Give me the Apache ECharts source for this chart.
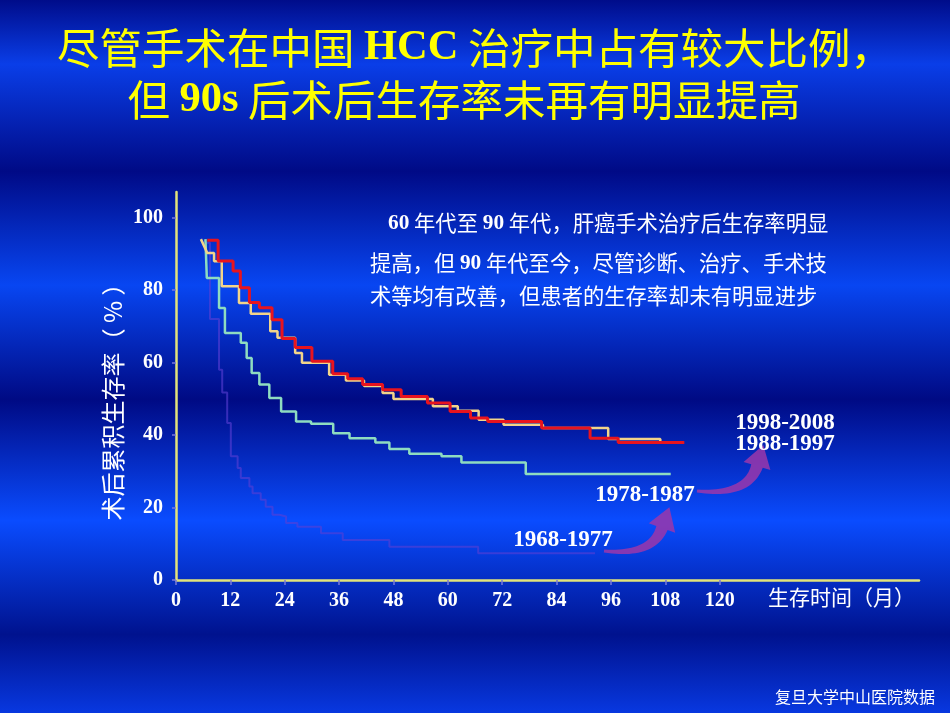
<!DOCTYPE html>
<html>
<head>
<meta charset="utf-8">
<title>HCC 术后生存率</title>
<script src="https://cdn.jsdelivr.net/npm/echarts@6/dist/echarts.min.js"></script>
<style>
  html, body { margin: 0; padding: 0; background: #000c8c; }
  #main { width: 950px; height: 713px; }
</style>
</head>
<body>
<div id="main"></div>
<script>
// 坐标轴刻度
var xTicks = [0, 12, 24, 36, 48, 60, 72, 84, 96, 108, 120];
var yTicks = [0, 20, 40, 60, 80, 100];

// 1998-2008（红）
var t1998 = [6.9, 9.3, 12.6, 14.2, 16.2, 18.4, 21.2, 23.4, 26.3, 30, 34.6, 37.9, 41.2, 45.6, 49.7, 55.5, 60.5, 65, 68.8, 80.7, 91.4, 97.6, 112.2];
var s1998 = [93.7, 88, 85.2, 80.6, 76.5, 75.1, 71.8, 66.6, 64.1, 60.3, 56.9, 55.5, 53.9, 52.5, 50.6, 48.8, 46.5, 44.7, 43.7, 41.9, 39.1, 37.9, 37.9];

// 1988-1997（黄）
var lead1988 = [5.5, 94];
var t1988 = [6.9, 8.4, 10.1, 13.9, 16.5, 20.8, 22.4, 26.3, 27.8, 33.8, 37.5, 41.5, 45.6, 48, 56.7, 62.2, 66.8, 72.3, 81, 95.4, 106.9];
var s1988 = [90.2, 87.9, 81, 76.4, 73.4, 68.6, 66.8, 62.6, 59.9, 56.6, 55, 53.5, 51.6, 49.9, 47.9, 46.7, 44.2, 42.8, 41.9, 38.9, 37.9];

// 1978-1987（绿）
var t1978 = [6.5, 6.8, 9.5, 10.8, 14.3, 15.6, 16.7, 18.4, 20.6, 23.2, 26.5, 29.8, 34.7, 38.3, 44, 47.1, 51.5, 58.6, 63, 77.2, 109.2];
var s1978 = [94, 83.3, 75, 68.1, 65.4, 61.2, 57.1, 53.9, 50.2, 46.5, 43.7, 43.1, 40.5, 39.1, 37.9, 36.1, 34.8, 34.1, 32.4, 29.2, 29.2];

// 1968-1977（紫）
var t1968 = [6.5, 7.5, 9.5, 10.2, 11.3, 12.1, 13.6, 14.3, 16.2, 16.9, 18.7, 19.8, 21.3, 22.8, 24.3, 26.8, 32, 36.8, 47.1, 66.7, 92.5];
var s1968 = [93, 72, 58, 51.7, 43.3, 34.1, 30.9, 28.1, 25.8, 23.9, 22.1, 20.2, 18, 17.5, 15.7, 14.7, 12.9, 11, 9.2, 7.4, 7.4];

var serif = "'Liberation Serif', 'Times New Roman', serif";
var sans = "'Noto Sans CJK SC', 'Noto Sans', sans-serif";

// 生存曲线：先水平再下降
function steps(t, s) {
  var pts = [[t[0], s[0]]];
  for (var i = 1; i < t.length; i++) {
    pts.push([t[i], s[i - 1]]);
    pts.push([t[i], s[i]]);
  }
  return pts;
}

// 弯箭头（二次曲线 + 箭头）
function curvedArrow(p0, c, p1, w0, w1, headLen, headW) {
  var left = [], right = [], n = 24;
  for (var i = 0; i <= n; i++) {
    var t = i / n, u = 1 - t;
    var x = u * u * p0[0] + 2 * u * t * c[0] + t * t * p1[0];
    var y = u * u * p0[1] + 2 * u * t * c[1] + t * t * p1[1];
    var dx = 2 * u * (c[0] - p0[0]) + 2 * t * (p1[0] - c[0]);
    var dy = 2 * u * (c[1] - p0[1]) + 2 * t * (p1[1] - c[1]);
    var len = Math.sqrt(dx * dx + dy * dy);
    var nx = -dy / len, ny = dx / len;
    var w = (w0 + (w1 - w0) * t) / 2;
    left.push([x + nx * w, y + ny * w]);
    right.push([x - nx * w, y - ny * w]);
  }
  var ex = p1[0] - c[0], ey = p1[1] - c[1];
  var el = Math.sqrt(ex * ex + ey * ey);
  ex /= el; ey /= el;
  var hx = -ey, hy = ex;
  var head = [
    [p1[0] + hx * headW / 2, p1[1] + hy * headW / 2],
    [p1[0] + ex * headLen, p1[1] + ey * headLen],
    [p1[0] - hx * headW / 2, p1[1] - hy * headW / 2]
  ];
  return left.concat(head, right.reverse());
}

function label(text, x, y, size, opts) {
  opts = opts || {};
  return {
    type: 'text',
    x: x, y: y,
    rotation: opts.rotation || 0,
    z: 20,
    silent: true,
    style: {
      text: text,
      fill: opts.fill || '#ffffff',
      font: opts.font || (size + 'px ' + sans),
      align: opts.align || 'left',
      textAlign: opts.align || 'left',
      verticalAlign: 'middle',
      textVerticalAlign: 'middle',
      rich: opts.rich
    }
  };
}

var chart = echarts.init(document.getElementById('main'), null, { renderer: 'canvas' });

var bg = new echarts.graphic.LinearGradient(0, 0, 0, 1, [
  { offset: 0, color: '#000c8a' },
  { offset: 0.09, color: '#0a3ee8' },
  { offset: 0.24, color: '#000a86' },
  { offset: 0.40, color: '#0846f2' },
  { offset: 0.56, color: '#000a84' },
  { offset: 0.73, color: '#0a4cff' },
  { offset: 0.89, color: '#00128e' },
  { offset: 1, color: '#0838e0' }
]);

var titleRich = {
  c: { font: '42.5px ' + sans, fill: '#ffff00' },
  e: { font: 'bold 42.5px ' + serif, fill: '#ffff00' }
};
var noteRich = {
  c: { font: '21.3px ' + sans, fill: '#ffffff' },
  n: { font: 'bold 21.3px ' + serif, fill: '#ffffff' }
};
var tagFont = 'bold 23px ' + serif;
var arrowFill = 'rgba(155, 55, 170, 0.85)';

var option = {
  animation: false,
  grid: {
    left: 176, top: 192, right: 31, bottom: 133,
    outerBoundsMode: 'none'
  },
  xAxis: {
    type: 'value',
    min: 0, max: 164,
    splitLine: { show: false },
    axisLine: { lineStyle: { color: '#e3e37a', width: 2.5 } },
    axisTick: { customValues: xTicks, length: 5, lineStyle: { color: '#7a78d8', width: 1.5 } },
    axisLabel: {
      customValues: xTicks,
      margin: 11,
      color: '#ffffff',
      fontFamily: serif, fontWeight: 'bold', fontSize: 20
    }
  },
  yAxis: {
    type: 'value',
    min: 0, max: 107,
    splitLine: { show: false },
    axisLine: { onZero: false, lineStyle: { color: '#e3e37a', width: 2.5 } },
    axisTick: { customValues: yTicks, length: 4, lineStyle: { color: '#7a78d8', width: 1.5 } },
    axisLabel: {
      customValues: yTicks,
      margin: 13,
      color: '#ffffff',
      fontFamily: serif, fontWeight: 'bold', fontSize: 20
    }
  },
  series: [
    {
      name: '1968-1977', type: 'line', showSymbol: false, z: 2,
      lineStyle: { color: '#5b40d4', width: 2, opacity: 0.6 },
      data: steps(t1968, s1968)
    },
    {
      name: '1978-1987', type: 'line', showSymbol: false, z: 3,
      lineStyle: { color: '#8edcc0', width: 2.5 },
      data: steps(t1978, s1978)
    },
    {
      name: '1988-1997', type: 'line', showSymbol: false, z: 4,
      lineStyle: { color: '#f2d48a', width: 2.5 },
      data: [lead1988].concat(steps(t1988, s1988))
    },
    {
      name: '1998-2008', type: 'line', showSymbol: false, z: 5,
      lineStyle: { color: '#e8141e', width: 3 },
      data: steps(t1998, s1998)
    }
  ],
  graphic: [
    { type: 'rect', z: -10, silent: true, shape: { x: 0, y: 0, width: 950, height: 713 }, style: { fill: bg } },
    label('{c|尽管手术在中国 }{e|HCC}{c| 治疗中占有较大比例，}', 475, 48, 42.5, { align: 'center', rich: titleRich }),
    label('{c|但 }{e|90s}{c| 后术后生存率未再有明显提高}', 464, 100, 42.5, { align: 'center', rich: titleRich }),
    label('{n|60}{c| 年代至 }{n|90}{c| 年代，肝癌手术治疗后生存率明显}', 388, 223, 21.3, { rich: noteRich }),
    label('{c|提高，但 }{n|90}{c| 年代至今，尽管诊断、治疗、手术技}', 370, 263, 21.3, { rich: noteRich }),
    label('{c|术等均有改善，但患者的生存率却未有明显进步}', 370, 296, 21.3, { rich: noteRich }),
    label('术后累积生存率（ % ）', 113, 396, 24, { align: 'center', rotation: Math.PI / 2 }),
    label('生存时间（月）', 768, 597, 21),
    label('复旦大学中山医院数据', 935, 697, 16, { align: 'right' }),
    { type: 'polygon', z: 8, silent: true,
      shape: { points: curvedArrow([604, 551], [652, 556], [662, 528], 3, 12, 22, 28) },
      style: { fill: arrowFill } },
    { type: 'polygon', z: 8, silent: true,
      shape: { points: curvedArrow([697, 491], [748, 496], [757, 466], 3, 12, 22, 28) },
      style: { fill: arrowFill } },
    label('1998-2008', 785, 423, 23, { align: 'center', font: tagFont }),
    label('1988-1997', 785, 444, 23, { align: 'center', font: tagFont }),
    label('1978-1987', 645, 495, 23, { align: 'center', font: tagFont }),
    label('1968-1977', 563, 540, 23, { align: 'center', font: tagFont })
  ]
};

chart.setOption(option);
</script>
</body>
</html>
